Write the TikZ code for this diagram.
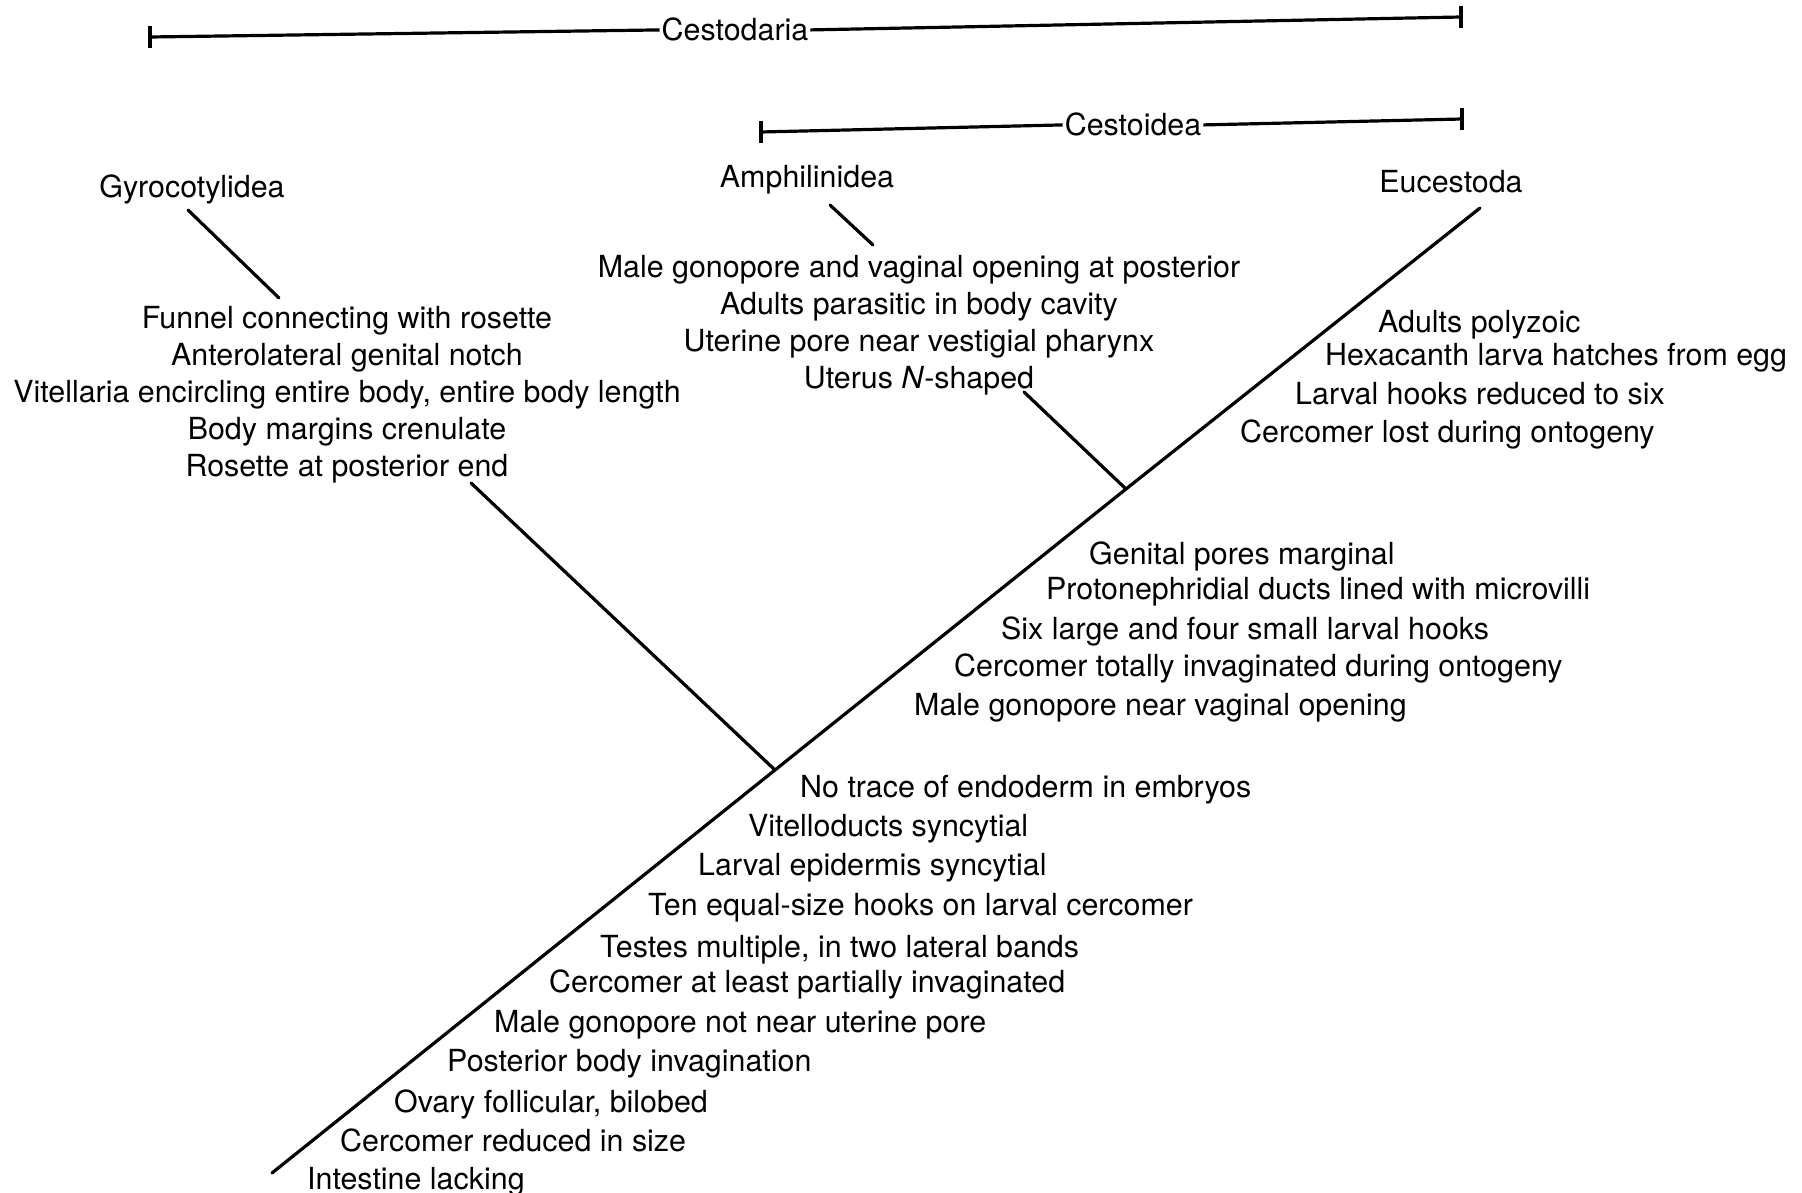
\documentclass[tikz,border=0pt]{standalone}
\usepackage{fontspec}
\setmainfont{TeX Gyre Heros}
\usepackage{tikz}
\usetikzlibrary{positioning}
\newcommand{\charfont}{\fontsize{30.4}{37}\selectfont}
\tikzset{
  branch/.style={line width=3.2pt, line cap=round},
  bar/.style={line width=3.2pt},
  taxon/.style={anchor=base, inner sep=2pt, font=\charfont},
  traitblock/.style={anchor=north, inner sep=0pt, align=center, font=\charfont},
  trait/.style={anchor=base west, inner sep=0pt, font=\charfont},
}

\begin{document}
\begin{tikzpicture}[x=1pt, y=-1pt]
  \useasboundingbox (0,0) rectangle (1802,1193);

  % group bars
  \node[taxon] (cestodaria) at (735,41) {Cestodaria};
  \node[taxon] (cestoidea) at (1133,136) {Cestoidea};
  \coordinate (cdL) at (150,37);
  \coordinate (cdR) at (1461,17);
  \coordinate (ciL) at (761,132);
  \coordinate (ciR) at (1462,119);
  \draw[bar] (cdL) -- (cestodaria.west);
  \draw[bar] (cestodaria.east) -- (cdR);
  \draw[bar] (ciL) -- (cestoidea.west);
  \draw[bar] (cestoidea.east) -- (ciR);
  \draw[bar] ([yshift=11pt]cdL) -- ([yshift=-11pt]cdL);
  \draw[bar] ([yshift=11pt]cdR) -- ([yshift=-11pt]cdR);
  \draw[bar] ([yshift=11pt]ciL) -- ([yshift=-11pt]ciL);
  \draw[bar] ([yshift=11pt]ciR) -- ([yshift=-11pt]ciR);

  % taxa
  \node[taxon] (gyro) at (192,198) {Gyrocotylidea};
  \node[taxon] (amphi) at (807,188) {Amphilinidea};
  \node[taxon] (euce) at (1451,193) {Eucestoda};

  % tree
  \coordinate (root) at (272,1173);
  \coordinate (n1) at (775,770);
  \coordinate (n2) at (1126,489);
  \coordinate (tip) at (1480,208);
  \coordinate (gyroA) at (471,483);
  \coordinate (gyroB) at (279,298);
  \coordinate (gyroC) at (188,210);
  \coordinate (amphiA) at (1024,392);
  \coordinate (amphiB) at (873,245);
  \coordinate (amphiC) at (830,205);
  \draw[branch] (root) -- (n1) -- (n2) -- (tip);
  \draw[branch] (n1) -- (gyroA);
  \draw[branch] (gyroB) -- (gyroC);
  \draw[branch] (n2) -- (amphiA);
  \draw[branch] (amphiB) -- (amphiC);

  % Gyrocotylidea
  \node[traitblock] (gyrochars) at (347,306) {Funnel connecting with rosette\\
    Anterolateral genital notch\\
    Vitellaria encircling entire body, entire body length\\
    Body margins crenulate\\
    Rosette at posterior end};

  % Amphilinidea
  \node[traitblock] (amphichars) at (919,255) {Male gonopore and vaginal opening at posterior\\
    Adults parasitic in body cavity\\
    Uterine pore near vestigial pharynx\\
    Uterus \textit{N}-shaped};

  % Eucestoda
  \node[trait] (eu1) at (1378,332) {Adults polyzoic};
  \node[trait] (eu2) at (1325,365) {Hexacanth larva hatches from egg};
  \node[trait] (eu3) at (1295,404) {Larval hooks reduced to six};
  \node[trait] (eu4) at (1240,442) {Cercomer lost during ontogeny};

  % Cestoidea
  \node[trait] (ci1) at (1089,564) {Genital pores marginal};
  \node[trait] (ci2) at (1046,599) {Protonephridial ducts lined with microvilli};
  \node[trait] (ci3) at (1001,639) {Six large and four small larval hooks};
  \node[trait] (ci4) at (954,676) {Cercomer totally invaginated during ontogeny};
  \node[trait] (ci5) at (914,715) {Male gonopore near vaginal opening};

  % Cestodaria
  \node[trait] (cd1) at (800,797) {No trace of endoderm in embryos};
  \node[trait] (cd2) at (748,836) {Vitelloducts syncytial};
  \node[trait] (cd3) at (698,875) {Larval epidermis syncytial};
  \node[trait] (cd4) at (648,915) {Ten equal-size hooks on larval cercomer};
  \node[trait] (cd5) at (600,957) {Testes multiple, in two lateral bands};
  \node[trait] (cd6) at (549,992) {Cercomer at least partially invaginated};
  \node[trait] (cd7) at (494,1032) {Male gonopore not near uterine pore};
  \node[trait] (cd8) at (447,1071) {Posterior body invagination};
  \node[trait] (cd9) at (394,1112) {Ovary follicular, bilobed};
  \node[trait] (cd10) at (340,1151) {Cercomer reduced in size};
  \node[trait] (cd11) at (307,1189) {Intestine lacking};
\end{tikzpicture}
\end{document}
